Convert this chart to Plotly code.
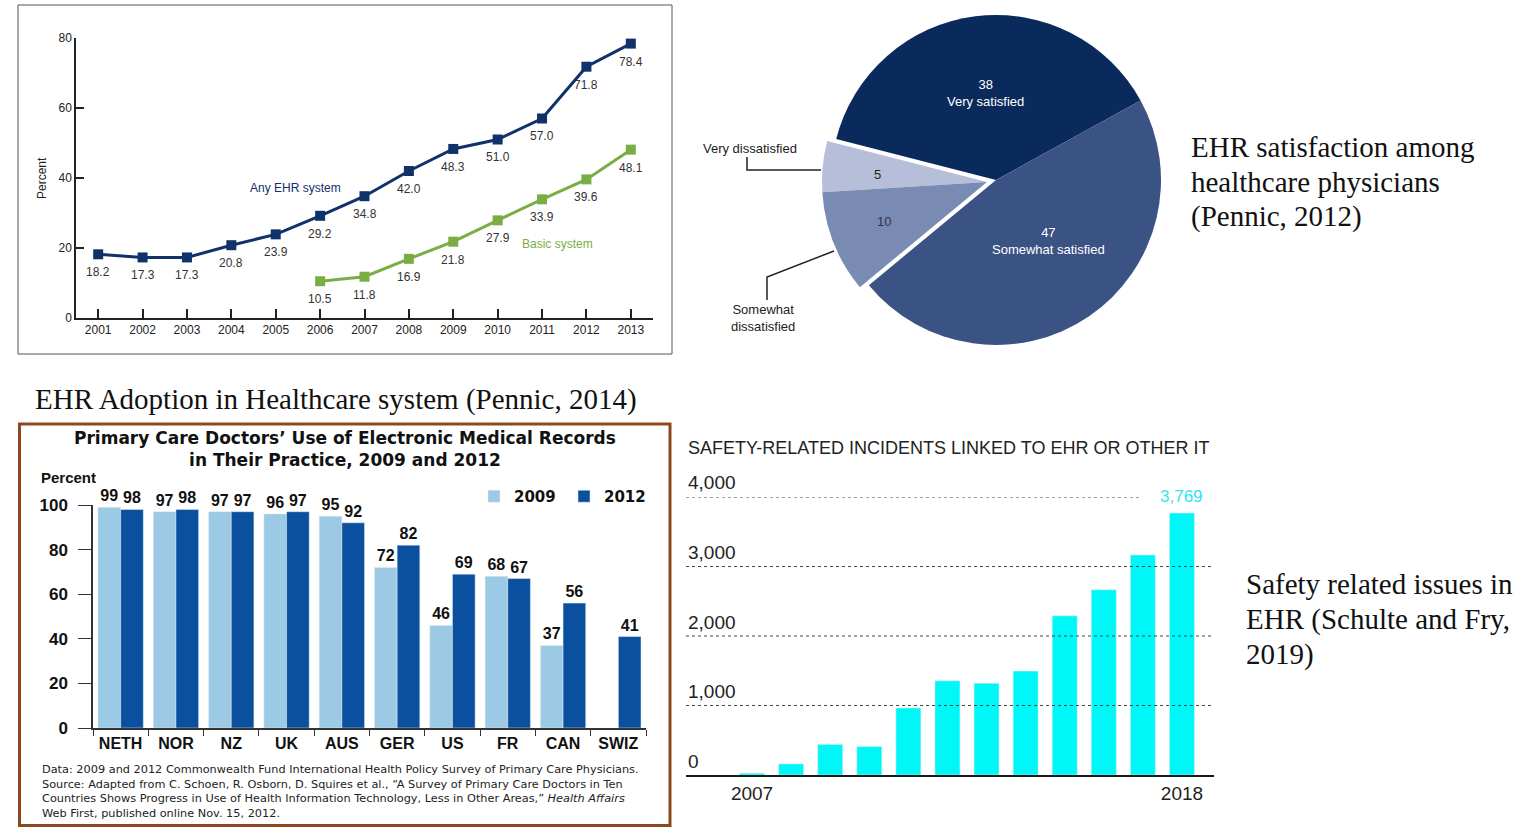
import plotly.graph_objects as go

W, H = 1536, 827

# ---------- Data ----------
# Panel 1: EHR adoption (line chart)
years = list(range(2001, 2014))
any_ehr = [18.2, 17.3, 17.3, 20.8, 23.9, 29.2, 34.8, 42.0, 48.3, 51.0, 57.0, 71.8, 78.4]
basic_years = list(range(2006, 2014))
basic_ehr = [10.5, 11.8, 16.9, 21.8, 27.9, 33.9, 39.6, 48.1]

# Panel 2: EHR satisfaction (pie)
sat_labels = ["Very satisfied", "Very dissatisfied", "Somewhat dissatisfied", "Somewhat satisfied"]
sat_values = [38, 5, 10, 47]

# Panel 3: EMR use by country
countries = ["NETH", "NOR", "NZ", "UK", "AUS", "GER", "US", "FR", "CAN", "SWIZ"]
emr_2009 = [99, 97, 97, 96, 95, 72, 46, 68, 37, None]
emr_2012 = [98, 98, 97, 97, 92, 82, 69, 67, 56, 41]

# Panel 4: safety incidents
inc_years = list(range(2007, 2019))
incidents = [25, 160, 440, 410, 965, 1355, 1320, 1495, 2290, 2665, 3165, 3769]
inc_ticks = [0, 1000, 2000, 3000, 4000]


def PX(x):
    return x / W


def PY(y):
    return 1 - y / H


SANS = "Liberation Sans, Arial, sans-serif"
WIDE = "DejaVu Sans, Verdana, sans-serif"
SERIF = "Liberation Serif, Times New Roman, serif"

NAVY = "#10316a"
GREEN = "#7aae45"
PIE_COLS = ["#0b2a5c", "#b6bed9", "#7a8bb3", "#3b5384"]
LIGHT = "#9cc9e3"
DARK = "#0a509e"
CYAN = "#00f7f7"

fig = go.Figure()

# ---------- Panel 1 ----------
fig.add_trace(go.Scatter(
    x=years, y=any_ehr, mode="lines+markers",
    line=dict(color=NAVY, width=3), marker=dict(symbol="square", size=10, color=NAVY),
    showlegend=False, hoverinfo="skip", cliponaxis=False, xaxis="x", yaxis="y"))
fig.add_trace(go.Scatter(
    x=basic_years, y=basic_ehr, mode="lines+markers",
    line=dict(color=GREEN, width=3), marker=dict(symbol="square", size=10, color=GREEN),
    showlegend=False, hoverinfo="skip", cliponaxis=False, xaxis="x", yaxis="y"))

# ---------- Panel 2 (pie, the two small slices pulled out together) ----------
big_cols = [PIE_COLS[0], "rgba(0,0,0,0)", "rgba(0,0,0,0)", PIE_COLS[3]]
small_cols = ["rgba(0,0,0,0)", PIE_COLS[1], PIE_COLS[2], "rgba(0,0,0,0)"]
for cols, (x0, x1, y0, y1) in [(big_cols, (831, 1161, 15, 345)),
                                (small_cols, (822, 1152, 17, 347))]:
    fig.add_trace(go.Pie(
        labels=sat_labels, values=sat_values, sort=False, direction="counterclockwise",
        rotation=-75.6, marker=dict(colors=cols, line=dict(width=0)), textinfo="none",
        hoverinfo="skip", showlegend=False,
        domain=dict(x=[PX(x0), PX(x1)], y=[PY(y1), PY(y0)])))

# ---------- Panel 3 ----------
bar_font = dict(family=SANS, size=16, color="#111", weight="bold")
fig.add_trace(go.Bar(
    x=countries, y=emr_2009, name="2009", marker_color=LIGHT, width=0.41, offset=-0.41,
    text=[("" if v is None else str(v)) for v in emr_2009], textposition="outside",
    textfont=bar_font, constraintext="none", cliponaxis=False, hoverinfo="skip",
    xaxis="x2", yaxis="y2"))
fig.add_trace(go.Bar(
    x=countries, y=emr_2012, name="2012", marker_color=DARK, width=0.41, offset=0,
    text=[str(v) for v in emr_2012], textposition="outside",
    textfont=bar_font, constraintext="none", cliponaxis=False, hoverinfo="skip",
    xaxis="x2", yaxis="y2"))

# ---------- Panel 4 ----------
fig.add_trace(go.Bar(
    x=inc_years, y=incidents, marker_color=CYAN, width=0.64, showlegend=False,
    hoverinfo="skip", xaxis="x3", yaxis="y3"))

# ---------- Layout ----------
axis_font = dict(family=SANS, size=12, color="#222")
fig.update_layout(
    width=W, height=H, margin=dict(l=0, r=0, t=0, b=0, autoexpand=False),
    paper_bgcolor="white", plot_bgcolor="rgba(0,0,0,0)",
    barmode="overlay",
    font=dict(family=SANS),
    xaxis=dict(domain=[PX(76), PX(653)], range=[2000.5, 2013.5], anchor="y", automargin=False,
               tickvals=years, ticks="inside", ticklen=9, tickwidth=1.5, tickcolor="#222",
               showline=True, linecolor="#222", linewidth=1.5, showgrid=False, zeroline=False,
               tickfont=axis_font),
    yaxis=dict(domain=[PY(318), PY(38)], range=[0, 80], anchor="x", automargin=False,
               tickvals=[0, 20, 40, 60, 80], ticks="inside", ticklen=8, tickwidth=1.5,
               tickcolor="#222", showline=True, linecolor="#222", linewidth=1.5,
               showgrid=False, zeroline=False, tickfont=axis_font),
    xaxis2=dict(domain=[PX(93), PX(646)], range=[-0.5, 9.5], anchor="y2", type="category",
                automargin=False, tickson="boundaries", ticks="outside", ticklen=6,
                tickcolor="#333", showline=True, linecolor="#333", linewidth=1.5,
                showgrid=False, zeroline=False, tickfont=bar_font),
    yaxis2=dict(domain=[PY(728), PY(505)], range=[0, 100], anchor="x2", automargin=False,
                tickvals=[0, 20, 40, 60, 80, 100], ticks="outside", ticklen=13,
                tickcolor="#333", showline=True, linecolor="#333", linewidth=1.5,
                ticklabelstandoff=7, showgrid=False, zeroline=False,
                tickfont=dict(family=SANS, size=17, color="#111", weight="bold")),
    xaxis3=dict(domain=[PX(686), PX(1214)], range=[2005.31, 2018.82], anchor="y3",
                automargin=False, tickvals=[inc_years[0], inc_years[-1]], ticks="",
                showline=True, linecolor="#1a1a1a", linewidth=2, showgrid=False,
                zeroline=False, tickfont=dict(family=SANS, size=19, color="#222")),
    yaxis3=dict(domain=[PY(775), PY(497)], range=[0, 4000], anchor="x3", automargin=False,
                showticklabels=False, ticks="", showline=False, showgrid=False, zeroline=False),
    legend=dict(orientation="h", x=PX(474), y=PY(480), xanchor="left", yanchor="top",
                bgcolor="rgba(0,0,0,0)", font=dict(family=WIDE, size=15, color="#111", weight="bold"),
                itemwidth=30, entrywidth=45, entrywidthmode="pixels"),
)

shapes = []
# panel frames
shapes.append(dict(type="rect", xref="paper", yref="paper", x0=PX(18), x1=PX(672),
                   y0=PY(354), y1=PY(5), line=dict(color="#555", width=1)))
shapes.append(dict(type="rect", xref="paper", yref="paper", x0=PX(19.5), x1=PX(670),
                   y0=PY(825.5), y1=PY(424), line=dict(color="#8b4a1e", width=3)))
# pie leader lines
shapes.append(dict(type="path", xref="paper", yref="paper",
                   path=f"M {PX(747)},{PY(157)} L {PX(747)},{PY(170)} L {PX(821)},{PY(170)}",
                   line=dict(color="#222", width=1.5)))
shapes.append(dict(type="path", xref="paper", yref="paper",
                   path=f"M {PX(767)},{PY(300)} L {PX(767)},{PY(277)} L {PX(834)},{PY(251)}",
                   line=dict(color="#222", width=1.5)))
# incidents gridlines (dotted)
for v in inc_ticks[1:]:
    shapes.append(dict(type="line", xref="x3 domain", yref="y3", x0=0,
                       x1=(0.864 if v == inc_ticks[-1] else 1), y0=v, y1=v,
                       line=dict(color="#444", width=1.2, dash="dot")))
fig.update_layout(shapes=shapes)


def A(x, y, text, size, color, family=SANS, xa="center", ya="middle", **kw):
    d = dict(x=x, y=y, xref=kw.pop("xref", "paper"), yref=kw.pop("yref", "paper"),
             text=text, showarrow=False, xanchor=xa, yanchor=ya,
             font=dict(family=family, size=size, color=color, **kw.pop("fw", {})))
    d.update(kw)
    return d


ann = []
# panel 1 value labels (below each marker)
for xs, ys in [(years, any_ehr), (basic_years, basic_ehr)]:
    for xv, yv in zip(xs, ys):
        ann.append(A(xv, yv, f"{yv:.1f}", 12, "#333", xref="x", yref="y", ya="top", yshift=-9))
ann.append(A(PX(42), PY(178), "Percent", 12, "#222", textangle=-90))
ann.append(A(2005.45, 37.1, "Any EHR system", 12, NAVY, xref="x", yref="y"))
ann.append(A(2011.35, 21.2, "Basic system", 12, GREEN, xref="x", yref="y"))
# pie labels
ann.append(A(PX(985), PY(93), f"{sat_values[0]}<br>{sat_labels[0]}", 13, "white"))
ann.append(A(PX(1048), PY(241), f"{sat_values[3]}<br>{sat_labels[3]}", 13, "white"))
ann.append(A(PX(877), PY(175), str(sat_values[1]), 13, "#222"))
ann.append(A(PX(884), PY(221), str(sat_values[2]), 13, "#334"))
ann.append(A(PX(750), PY(149), sat_labels[1], 13, "#222"))
ann.append(A(PX(763), PY(318), "Somewhat<br>dissatisfied", 13, "#222"))
# serif captions (one annotation per line)
for i, line in enumerate(["EHR satisfaction among", "healthcare physicians", "(Pennic, 2012)"]):
    ann.append(A(PX(1189), PY(147 + 34.5 * i), line, 29, "#111", family=SERIF, xa="left"))
ann.append(A(PX(336), PY(399), "EHR Adoption in Healthcare system (Pennic, 2014)", 29, "#111",
             family=SERIF))
for i, line in enumerate(["Safety related issues in", "EHR (Schulte and Fry,", "2019)"]):
    ann.append(A(PX(1244), PY(584 + 35 * i), line, 29, "#111", family=SERIF, xa="left"))
# panel 3 text
ann.append(A(PX(345), PY(449),
             "Primary Care Doctors’ Use of Electronic Medical Records<br>in Their Practice, 2009 and 2012",
             17, "#111", family=WIDE, fw=dict(weight="bold")))
ann.append(A(PX(39), PY(477), "Percent", 15, "#111", xa="left", fw=dict(weight="bold")))
ann.append(A(PX(40), PY(791),
             ("Data: 2009 and 2012 Commonwealth Fund International Health Policy Survey of Primary Care Physicians.<br>"
              "Source: Adapted from C. Schoen, R. Osborn, D. Squires et al., “A Survey of Primary Care Doctors in Ten<br>"
              "Countries Shows Progress in Use of Health Information Technology, Less in Other Areas,” <i>Health Affairs</i><br>"
              "Web First, published online Nov. 15, 2012."),
             11.3, "#222", family=WIDE, xa="left", align="left"))
# panel 4 text
ann.append(A(PX(686), PY(448), "SAFETY-RELATED INCIDENTS LINKED TO EHR OR OTHER IT", 18, "#222",
             xa="left"))
for v in inc_ticks:
    ann.append(A(0, v, f"{v:,}", 19, "#222", xref="x3 domain", yref="y3", xa="left",
                 yshift=14))
ann.append(A(inc_years[-1], incidents[-1], f"{incidents[-1]:,}", 17, "#33e3ef",
             xref="x3", yref="y3", ya="bottom", yshift=5))
fig.update_layout(annotations=ann)

fig.write_html("out.html", config={"displayModeBar": False},
               post_script="document.body.style.margin='0';")
